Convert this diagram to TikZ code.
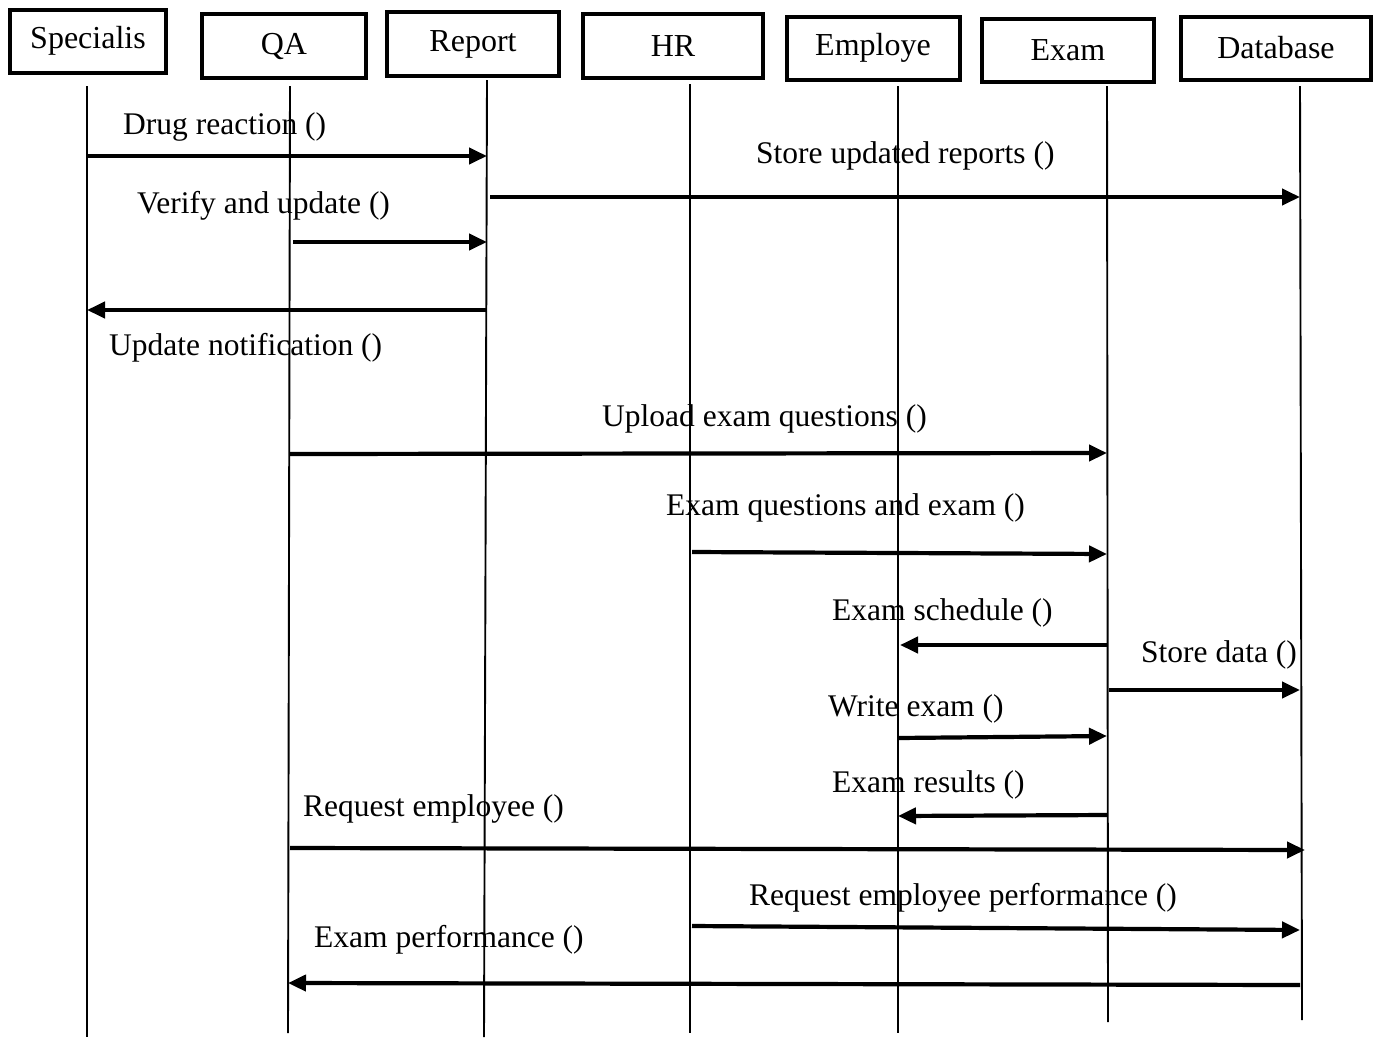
\documentclass[tikz,border=0pt]{standalone}
\usepackage{fontspec}
\setmainfont{Liberation Serif}
\usetikzlibrary{arrows.meta}
\begin{document}
\begin{tikzpicture}[x=1pt,y=-1pt,
  actor/.style={draw,line width=4pt,inner sep=0pt,font=\fontsize{32}{36}\selectfont},
  life/.style={line width=1.9pt},
  msg/.style={line width=4.2pt,-{Triangle[length=18pt,width=16pt]}},
  lbl/.style={anchor=base west,inner sep=0pt,font=\fontsize{31.5}{36}\selectfont}]
\useasboundingbox (0,0) rectangle (1379,1039);
% participant boxes
\node[actor,minimum width=156pt,minimum height=63pt] (sp) at (88,41) {Specialis};
\node[actor,minimum width=164pt,minimum height=64pt] (qa) at (284,46) {QA};
\node[actor,minimum width=172pt,minimum height=64pt] (rp) at (473,44) {Report};
\node[actor,minimum width=180pt,minimum height=64pt] (hr) at (673,46) {HR};
\node[actor,minimum width=173pt,minimum height=63pt] (em) at (873,48) {Employe};
\node[actor,minimum width=172pt,minimum height=63pt] (ex) at (1068,50) {Exam};
\node[actor,minimum width=190pt,minimum height=63pt] (db) at (1276,48) {Database};
% lifelines
\coordinate (spT) at (87,86);   \coordinate (spB) at (87,1037);
\coordinate (qaT) at (290,86);  \coordinate (qaB) at (288,1033);
\coordinate (rpT) at (487,80);  \coordinate (rpB) at (484,1037);
\coordinate (hrT) at (690,84);  \coordinate (hrB) at (690,1033);
\coordinate (emT) at (898,86);  \coordinate (emB) at (898,1033);
\coordinate (exT) at (1107,86); \coordinate (exB) at (1108,1022);
\coordinate (dbT) at (1300,86); \coordinate (dbB) at (1302,1020);
\foreach \p in {sp,qa,rp,hr,em,ex,db} \draw[life] (\p T) -- (\p B);
% messages
\draw[msg] (spT |- 0,156) -- (rpT |- 0,156);
\node[lbl] (l1) at (123,134) {Drug reaction ()};
\draw[msg] ([xshift=3pt]rpT |- 0,197) -- (dbT |- 0,197);
\node[lbl] (l2) at (756,163) {Store updated reports ()};
\draw[msg] ([xshift=3pt]qaT |- 0,242) -- (rpT |- 0,242);
\node[lbl] (l3) at (137,213) {Verify and update ()};
\draw[msg] (rpT |- 0,310) -- (spT |- 0,310);
\node[lbl] (l4) at (109,355) {Update notification ()};
\draw[msg] (qaT |- 0,454) -- (exT |- 0,453);
\node[lbl] (l5) at (602,426) {Upload exam questions ()};
\draw[msg] ([xshift=2pt]hrT |- 0,552) -- (exT |- 0,554);
\node[lbl] (l6) at (666,515) {Exam questions and exam ()};
\draw[msg] (exT |- 0,645) -- ([xshift=2pt]emT |- 0,645);
\node[lbl] (l7) at (832,620) {Exam schedule ()};
\draw[msg] ([xshift=2pt]exT |- 0,690) -- (dbT |- 0,690);
\node[lbl] (l8) at (1141,662) {Store data ()};
\draw[msg] (emT |- 0,738) -- (exT |- 0,736);
\node[lbl] (l9) at (828,716) {Write exam ()};
\draw[msg] (exT |- 0,815) -- (emT |- 0,816);
\node[lbl] (l10) at (832,792) {Exam results ()};
\draw[msg] (qaT |- 0,848) -- ([xshift=5pt]dbT |- 0,850);
\node[lbl] (l11) at (303,816) {Request employee ()};
\draw[msg] ([xshift=2pt]hrT |- 0,926) -- (dbT |- 0,930);
\node[lbl] (l12) at (749,905) {Request employee performance ()};
\draw[msg] (dbT |- 0,985) -- (qaB |- 0,983);
\node[lbl] (l13) at (314,947) {Exam performance ()};
\end{tikzpicture}
\end{document}
